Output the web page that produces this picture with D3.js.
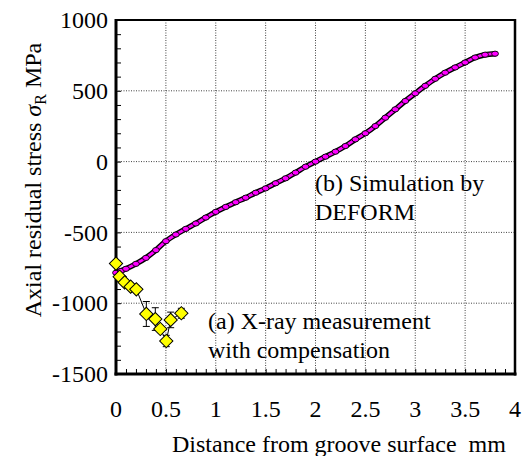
<!DOCTYPE html>
<html>
<head>
<meta charset="utf-8">
<script src="https://cdn.jsdelivr.net/npm/d3@7"></script>
<style>
  html, body { margin: 0; padding: 0; background: #fff; }
</style>
</head>
<body>
<svg id="chart" width="530" height="456" font-family="'Liberation Serif', 'Times New Roman', Times, 'DejaVu Serif', serif"></svg>
<script>
// ---- data ----
const xTicks = [0, 0.5, 1, 1.5, 2, 2.5, 3, 3.5, 4];
const yTicks = [1000, 500, 0, -500, -1000, -1500];
const xTickLabels = ["0", "0.5", "1", "1.5", "2", "2.5", "3", "3.5", "4"];
const yTickLabels = ["1000", "500", "0", "-500", "-1000", "-1500"];

// (b) Simulation by DEFORM
const simX = [0, 0.05, 0.1, 0.2, 0.3, 0.4, 0.5, 0.6, 0.7, 0.8, 0.9, 1.0, 1.1, 1.2, 1.3, 1.4, 1.5, 1.6, 1.7, 1.8, 1.9,
              2.0, 2.1, 2.2, 2.3, 2.4, 2.5, 2.6, 2.7, 2.8, 2.9, 3.0, 3.1, 3.2, 3.3, 3.4, 3.5, 3.6, 3.7, 3.8];
const simY = [-785, -772, -757, -722, -680, -625, -562, -515, -475, -437, -395, -355, -320, -287, -255, -220, -189, -153, -118, -78, -36,
              0, 35, 70, 110, 157, 200, 251, 310, 369, 428, 482, 535, 585, 628, 665, 700, 735, 755, 762];

// (a) X-ray measurement with compensation
const xrX   = [0.0, 0.037, 0.087, 0.147, 0.204, 0.304, 0.394, 0.444, 0.504, 0.548, 0.655];
const xrY   = [-720, -813, -853, -883, -902, -1076, -1112, -1182, -1267, -1118, -1071];
const xrErr = [0, 0, 0, 0, 0, 88, 80, 0, 40, 55, 35];

// ---- layout ----
const FONT = "'Liberation Serif', 'Times New Roman', Times, 'DejaVu Serif', serif";
const svg = d3.select("#chart");
const L = 116, R = 515, T = 20, B = 374;
const x = d3.scaleLinear().domain([0, 4]).range([L, R]);
const y = d3.scaleLinear().domain([-1500, 1000]).range([B, T]);

// grid lines (dotted)
const grid = svg.append("g");
grid.selectAll("line.gx").data(xTicks.filter(d => d > 0 && d < 4)).join("line")
  .attr("x1", d => x(d)).attr("x2", d => x(d)).attr("y1", T).attr("y2", B)
  .attr("stroke", "#444").attr("stroke-width", 1).attr("stroke-dasharray", "1,1.5");
grid.selectAll("line.gy").data(yTicks.filter(d => d > -1500 && d < 1000)).join("line")
  .attr("x1", L).attr("x2", R).attr("y1", d => y(d)).attr("y2", d => y(d))
  .attr("stroke", "#444").attr("stroke-width", 1).attr("stroke-dasharray", "1,1.5");

// minor ticks (inward)
const xMinor = d3.range(1, 40).map(i => i / 10);
const yMinor = d3.range(-14, 10).map(i => i * 100);
const axisBottom = d3.axisBottom(x).tickValues(xMinor).tickSize(-5).tickFormat("");
const axisLeft = d3.axisLeft(y).tickValues(yMinor).tickSize(-5).tickFormat("");
const gb = svg.append("g").attr("transform", `translate(0,${B})`).call(axisBottom);
const gl = svg.append("g").attr("transform", `translate(${L},0)`).call(axisLeft);
[gb, gl].forEach(g => {
  g.select(".domain").remove();
  g.selectAll(".tick line").attr("stroke", "#000").attr("stroke-width", 1);
});

// frame
svg.append("rect").attr("x", L).attr("y", T).attr("width", R - L).attr("height", B - T)
  .attr("fill", "none").attr("stroke", "#000").attr("stroke-width", 2);
svg.append("line").attr("x1", L).attr("x2", L).attr("y1", T - 1).attr("y2", B + 1.5)
  .attr("stroke", "#000").attr("stroke-width", 3);
svg.append("line").attr("x1", L - 1.5).attr("x2", R + 1.5).attr("y1", B).attr("y2", B)
  .attr("stroke", "#000").attr("stroke-width", 3);
svg.append("line").attr("x1", R).attr("x2", R).attr("y1", T - 1).attr("y2", B + 1.5)
  .attr("stroke", "#000").attr("stroke-width", 2.5);

// tick labels
svg.append("g").selectAll("text").data(xTicks).join("text")
  .attr("font-family", FONT)
  .attr("x", d => x(d)).attr("y", 416.5).attr("text-anchor", "middle")
  .attr("font-size", 24).text((d, i) => xTickLabels[i]);
svg.append("g").selectAll("text").data(yTicks).join("text")
  .attr("font-family", FONT)
  .attr("x", 108).attr("y", d => y(d)).attr("dy", "0.34em").attr("text-anchor", "end")
  .attr("font-size", 24).text((d, i) => yTickLabels[i]);

// axis titles
svg.append("text").attr("font-family", FONT).attr("x", 172).attr("y", 452).attr("font-size", 24)
  .style("white-space", "pre").text("Distance from groove surface  mm");
const yt = svg.append("text").attr("font-family", FONT).attr("transform", "translate(41,180) rotate(-90)")
  .attr("text-anchor", "middle").attr("font-size", 24);
yt.append("tspan").text("Axial residual stress ");
yt.append("tspan").attr("font-style", "italic").text("σ");
yt.append("tspan").attr("font-size", 16).attr("dy", 5).text("R");
yt.append("tspan").attr("dy", -5).text(" MPa");

// simulation curve
const sim = simX.map((d, i) => [d, simY[i]]);
const line = d3.line().x(d => x(d[0])).y(d => y(d[1])).curve(d3.curveMonotoneX);
svg.append("path").datum(sim).attr("d", line).attr("fill", "none")
  .attr("stroke", "#000").attr("stroke-width", 5.5).attr("stroke-linecap", "round");
svg.append("path").datum(sim).attr("d", line).attr("fill", "none")
  .attr("stroke", "#ff00ff").attr("stroke-width", 2.8).attr("stroke-linecap", "round");
svg.append("g").selectAll("ellipse").data(sim).join("ellipse")
  .attr("cx", d => x(d[0])).attr("cy", d => y(d[1])).attr("rx", 3.4).attr("ry", 2.6)
  .attr("fill", "#ff00ff").attr("stroke", "#000").attr("stroke-width", 0.9);

// x-ray measurement
const xr = xrX.map((d, i) => ({ x: d, y: xrY[i], e: xrErr[i] }));
svg.append("path").datum(xr)
  .attr("d", d3.line().x(d => x(d.x)).y(d => y(d.y)))
  .attr("fill", "none").attr("stroke", "#000").attr("stroke-width", 1);
const eb = svg.append("g").selectAll("g").data(xr.filter(d => d.e > 0)).join("g");
eb.append("line").attr("x1", d => x(d.x)).attr("x2", d => x(d.x))
  .attr("y1", d => y(d.y + d.e)).attr("y2", d => y(d.y - d.e)).attr("stroke", "#000");
eb.append("line").attr("x1", d => x(d.x) - 3.5).attr("x2", d => x(d.x) + 3.5)
  .attr("y1", d => y(d.y + d.e)).attr("y2", d => y(d.y + d.e)).attr("stroke", "#000");
eb.append("line").attr("x1", d => x(d.x) - 3.5).attr("x2", d => x(d.x) + 3.5)
  .attr("y1", d => y(d.y - d.e)).attr("y2", d => y(d.y - d.e)).attr("stroke", "#000");
svg.append("g").selectAll("path").data(xr).join("path")
  .attr("d", d3.symbol(d3.symbolSquare, 88))
  .attr("transform", d => `translate(${x(d.x)},${y(d.y)}) rotate(45)`)
  .attr("fill", "#ffff00").attr("stroke", "#000").attr("stroke-width", 1);

// annotations
const ta = svg.append("text").attr("font-family", FONT).attr("font-size", 24);
ta.append("tspan").attr("x", 208).attr("y", 328.5).text("(a) X-ray measurement");
ta.append("tspan").attr("x", 208).attr("y", 357.5).text("with compensation");
const tb = svg.append("text").attr("font-family", FONT).attr("font-size", 24);
tb.append("tspan").attr("x", 315).attr("y", 190.5).text("(b) Simulation by");
tb.append("tspan").attr("x", 315).attr("y", 220).text("DEFORM");
</script>
</body>
</html>
